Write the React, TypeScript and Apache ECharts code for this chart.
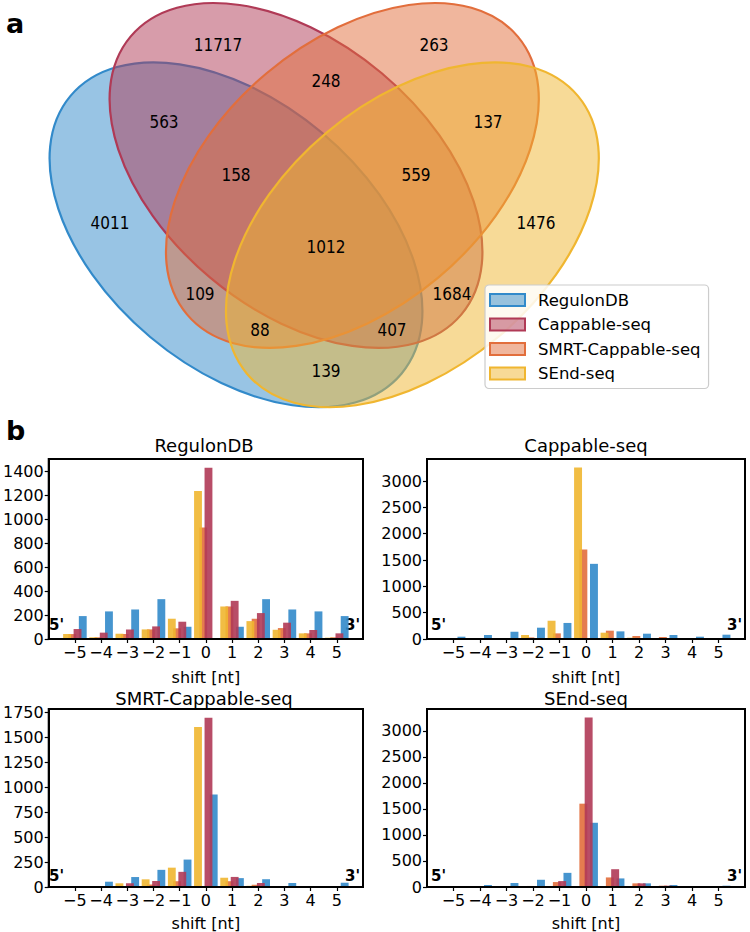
import React, { useEffect, useRef } from 'react';
import * as echarts from 'echarts';

// ---------------- panel a : 4-set Venn ----------------
const SET_NAMES = ['RegulonDB', 'Cappable-seq', 'SMRT-Cappable-seq', 'SEnd-seq'];
const SET_RGB = [
  [50, 138, 202],
  [176, 58, 86],
  [226, 110, 60],
  [240, 182, 48],
];

const VENN_REGIONS = ['1000', '0100', '0010', '0001', '1100', '1010', '1001', '0110', '0101', '0011', '1110', '1101', '1011', '0111', '1111'];
const VENN_COUNTS = [4011, 11717, 263, 1476, 563, 109, 139, 248, 1684, 137, 158, 407, 88, 559, 1012];
const VENN_LABEL_X = [0.14, 0.32, 0.68, 0.85, 0.23, 0.29, 0.5, 0.5, 0.71, 0.77, 0.35, 0.61, 0.39, 0.65, 0.5];
const VENN_LABEL_Y = [0.42, 0.72, 0.72, 0.42, 0.59, 0.3, 0.17, 0.66, 0.3, 0.59, 0.5, 0.24, 0.24, 0.5, 0.38];

const ELLIPSE_CX = [0.35, 0.45, 0.544, 0.644];
const ELLIPSE_CY = [0.4, 0.5, 0.5, 0.4];
const ELLIPSE_ANGLE = [140, 140, 40, 40];
const ELLIPSE_W = 0.72;
const ELLIPSE_H = 0.45;

// ---------------- panel b : shift histograms ----------------
const SHIFTS = [-5, -4, -3, -2, -1, 0, 1, 2, 3, 4, 5];

// RegulonDB panel
const REGULONDB_SEND = [41, 14, 44, 80, 169, 1234, 271, 149, 77, 47, 11];
const REGULONDB_SMRT = [41, 14, 41, 80, 89, 930, 271, 169, 91, 47, 14];
const REGULONDB_CAP = [83, 53, 80, 105, 144, 1428, 318, 216, 136, 75, 47];
const REGULONDB_REG = [191, 230, 246, 332, 102, 0, 102, 332, 246, 230, 191];

// Cappable-seq panel
const CAPPABLE_SEND = [0, 0, 0, 76, 347, 3260, 120, 25, 6, 0, 0];
const CAPPABLE_SMRT = [0, 0, 0, 30, 107, 1700, 158, 57, 38, 0, 0];
const CAPPABLE_CAP = [0, 0, 0, 0, 0, 0, 0, 0, 0, 0, 0];
const CAPPABLE_REG = [44, 76, 139, 215, 305, 1428, 145, 101, 76, 44, 82];

// SMRT-Cappable-seq panel
const SMRT_SEND = [0, 0, 37, 77, 194, 1605, 93, 12, 7, 0, 0];
const SMRT_SMRT = [0, 0, 0, 25, 58, 0, 58, 23, 0, 0, 0];
const SMRT_CAP = [0, 0, 38, 60, 152, 1697, 101, 40, 10, 0, 0];
const SMRT_REG = [10, 53, 100, 172, 275, 928, 89, 78, 40, 10, 43];

// SEnd-seq panel
const SEND_SEND = [0, 0, 0, 0, 0, 0, 0, 0, 0, 0, 0];
const SEND_SMRT = [0, 0, 0, 20, 95, 1601, 184, 70, 25, 0, 0];
const SEND_CAP = [0, 0, 0, 19, 114, 3259, 342, 70, 25, 0, 0];
const SEND_REG = [0, 38, 76, 139, 272, 1234, 165, 70, 38, 0, 25];

const PANEL_TITLES = ['RegulonDB', 'Cappable-seq', 'SMRT-Cappable-seq', 'SEnd-seq'];
const PANEL_Y_MAX = [1500, 3420, 1785, 3420];
const PANEL_Y_TICKS = [
  [0, 200, 400, 600, 800, 1000, 1200, 1400],
  [0, 500, 1000, 1500, 2000, 2500, 3000],
  [0, 250, 500, 750, 1000, 1250, 1500, 1750],
  [0, 500, 1000, 1500, 2000, 2500, 3000],
];
// per panel: [SEnd, SMRT, Cappable, RegulonDB]
const PANEL_VALUES = [
  [REGULONDB_SEND, REGULONDB_SMRT, REGULONDB_CAP, REGULONDB_REG],
  [CAPPABLE_SEND, CAPPABLE_SMRT, CAPPABLE_CAP, CAPPABLE_REG],
  [SMRT_SEND, SMRT_SMRT, SMRT_CAP, SMRT_REG],
  [SEND_SEND, SEND_SMRT, SEND_CAP, SEND_REG],
];
// series index -> set index (colour), offset of bar within group
const BAR_SET = [3, 2, 1, 0];
const BAR_OFFSET = [-0.3, -0.1, 0.1, 0.3];
const BAR_WIDTH = 0.3;
const DRAW_ORDER = [1, 3, 0, 2];

const GRID_BOXES = [
  { left: 45, top: 459, width: 318, height: 180 },
  { left: 427, top: 459, width: 318, height: 180 },
  { left: 45, top: 709, width: 318, height: 181 },
  { left: 427, top: 709, width: 318, height: 181 },
];

const FONT = "'DejaVu Sans', sans-serif";
const FONT_COND = "'DejaVu Sans Condensed', 'DejaVu Sans', sans-serif";

const rgb = (c: number[]) => `rgb(${c[0]},${c[1]},${c[2]})`;
const rgba = (c: number[], a: number) => `rgba(${c[0]},${c[1]},${c[2]},${a})`;
const fmtShift = (v: number) => (v < 0 ? '\u2212' + String(-v) : String(v));

function buildOption() {
  const grids: any[] = [];
  const xAxes: any[] = [];
  const yAxes: any[] = [];
  const series: any[] = [];
  const graphics: any[] = [];

  // ---- bar panels
  PANEL_TITLES.forEach((title, k) => {
    const g = GRID_BOXES[k];
    grids.push({ ...g, show: true, borderColor: '#000', borderWidth: 2, backgroundColor: 'transparent' });
    xAxes.push({
      gridIndex: k,
      type: 'value',
      min: -6,
      max: 6,
      name: 'shift [nt]',
      nameLocation: 'middle',
      nameGap: k < 2 ? 30 : 28,
      nameTextStyle: { fontFamily: FONT, fontSize: 16, color: '#000' },
      axisLine: { show: true, onZero: false, lineStyle: { color: '#000', width: 2 } },
      axisTick: { show: true, length: 4, lineStyle: { color: '#000', width: 1.2 }, customValues: SHIFTS },
      axisLabel: { customValues: SHIFTS, formatter: fmtShift, margin: 5, fontFamily: FONT, fontSize: 16, color: '#000' },
      splitLine: { show: false },
      z: 5,
    });
    yAxes.push({
      gridIndex: k,
      type: 'value',
      min: 0,
      max: PANEL_Y_MAX[k],
      axisLine: { show: true, onZero: false, lineStyle: { color: '#000', width: 2 } },
      axisTick: { show: true, length: 4, lineStyle: { color: '#000', width: 1.2 }, customValues: PANEL_Y_TICKS[k] },
      axisLabel: {
        customValues: PANEL_Y_TICKS[k],
        formatter: (v: number) => String(v),
        margin: 5,
        fontFamily: FONT,
        fontSize: 16,
        color: '#000',
      },
      splitLine: { show: false },
      z: 5,
    });
    DRAW_ORDER.forEach((s) => {
      const vals = PANEL_VALUES[k][s];
      const color = rgba(SET_RGB[BAR_SET[s]], 0.9);
      const off = BAR_OFFSET[s];
      series.push({
        type: 'custom',
        name: `${title} / ${SET_NAMES[BAR_SET[s]]}`,
        xAxisIndex: k,
        yAxisIndex: k,
        encode: { x: 0, y: 1 },
        data: SHIFTS.map((x, i) => [x, vals[i]]),
        renderItem: (params: any, api: any) => {
          const x = api.value(0) as number;
          const v = api.value(1) as number;
          if (!v) return null;
          const a = api.coord([x + off - BAR_WIDTH / 2, v]);
          const b = api.coord([x + off + BAR_WIDTH / 2, 0]);
          return {
            type: 'rect',
            shape: { x: a[0], y: a[1], width: b[0] - a[0], height: b[1] - a[1] },
            style: { fill: color },
          };
        },
        z: 2,
      });
    });
    // titles
    graphics.push({
      type: 'text',
      x: g.left + g.width / 2,
      y: k < 2 ? 445 : 698,
      style: { text: title, font: `18px ${FONT}`, fill: '#000', align: 'center', verticalAlign: 'middle' },
    });
    // 5' / 3' markers
    const yb = g.top + g.height - 14;
    graphics.push({
      type: 'text',
      x: g.left + 4,
      y: yb,
      style: { text: "5'", font: `bold 15px ${FONT}`, fill: '#000', align: 'left', verticalAlign: 'middle' },
    });
    graphics.push({
      type: 'text',
      x: g.left + g.width - 3,
      y: yb,
      style: { text: "3'", font: `bold 15px ${FONT}`, fill: '#000', align: 'right', verticalAlign: 'middle' },
    });
  });

  // ---- Venn grid
  const V = 4;
  grids.push({ left: 26, top: 3.5, width: 600, height: 468.5, show: false });
  xAxes.push({ gridIndex: V, type: 'value', min: 0, max: 1, show: false });
  yAxes.push({ gridIndex: V, type: 'value', min: 0, max: 0.79, show: false });
  SET_NAMES.forEach((name, i) => {
    series.push({
      type: 'custom',
      name,
      xAxisIndex: V,
      yAxisIndex: V,
      clip: false,
      encode: { x: 0, y: 1 },
      itemStyle: { color: rgba(SET_RGB[i], 0.5), borderColor: rgb(SET_RGB[i]), borderWidth: 2 },
      data: [[ELLIPSE_CX[i], ELLIPSE_CY[i]]],
      renderItem: (params: any, api: any) => {
        const c = api.coord([api.value(0), api.value(1)]);
        const s = api.size([ELLIPSE_W / 2, ELLIPSE_H / 2]);
        return {
          type: 'ellipse',
          x: c[0],
          y: c[1],
          rotation: (ELLIPSE_ANGLE[i] * Math.PI) / 180,
          shape: { cx: 0, cy: 0, rx: s[0], ry: s[1] },
          style: { fill: rgba(SET_RGB[i], 0.5), stroke: rgb(SET_RGB[i]), lineWidth: 2.2 },
        };
      },
      z: 1,
    });
  });
  series.push({
    type: 'custom',
    name: 'venn-counts',
    xAxisIndex: V,
    yAxisIndex: V,
    clip: false,
    encode: { x: 0, y: 1 },
    data: VENN_REGIONS.map((r, i) => [VENN_LABEL_X[i], VENN_LABEL_Y[i], VENN_COUNTS[i]]),
    renderItem: (params: any, api: any) => {
      const c = api.coord([api.value(0), api.value(1)]);
      return {
        type: 'text',
        x: c[0],
        y: c[1],
        style: { text: String(api.value(2)), font: `17px ${FONT_COND}`, fill: '#000', align: 'center', verticalAlign: 'middle' },
      };
    },
    z: 3,
  });

  // panel letters
  graphics.push({ type: 'text', x: 6, y: 23, style: { text: 'a', font: `bold 27px ${FONT}`, fill: '#000', align: 'left', verticalAlign: 'middle' } });
  graphics.push({ type: 'text', x: 6, y: 430, style: { text: 'b', font: `bold 27px ${FONT}`, fill: '#000', align: 'left', verticalAlign: 'middle' } });

  return {
    animation: false,
    backgroundColor: '#fff',
    grid: grids,
    xAxis: xAxes,
    yAxis: yAxes,
    series,
    graphic: { elements: graphics },
    legend: {
      orient: 'vertical',
      left: 485,
      top: 285,
      selectedMode: false,
      data: SET_NAMES.map((n, i) => ({
        name: n,
        icon: 'rect',
        itemStyle: { color: rgba(SET_RGB[i], 0.5), borderColor: rgb(SET_RGB[i]), borderWidth: 2 },
      })),
      itemWidth: 35,
      itemHeight: 12,
      itemGap: 6.5,
      textStyle: { fontFamily: FONT, fontSize: 16.5, color: '#000', lineHeight: 18, padding: [0, 0, 0, 8] },
      backgroundColor: 'rgba(255,255,255,0.85)',
      borderColor: '#cccccc',
      borderWidth: 1.2,
      borderRadius: 4,
      padding: [6, 8, 6, 4],
    },
  };
}

export default function App() {
  const ref = useRef<HTMLDivElement>(null);
  useEffect(() => {
    if (!ref.current) return;
    const chart = echarts.init(ref.current, undefined, { renderer: 'svg' });
    chart.setOption(buildOption() as any);
    return () => chart.dispose();
  }, []);
  return <div ref={ref} style={{ position: 'absolute', left: 0, top: 0, width: 750, height: 932 }} />;
}
